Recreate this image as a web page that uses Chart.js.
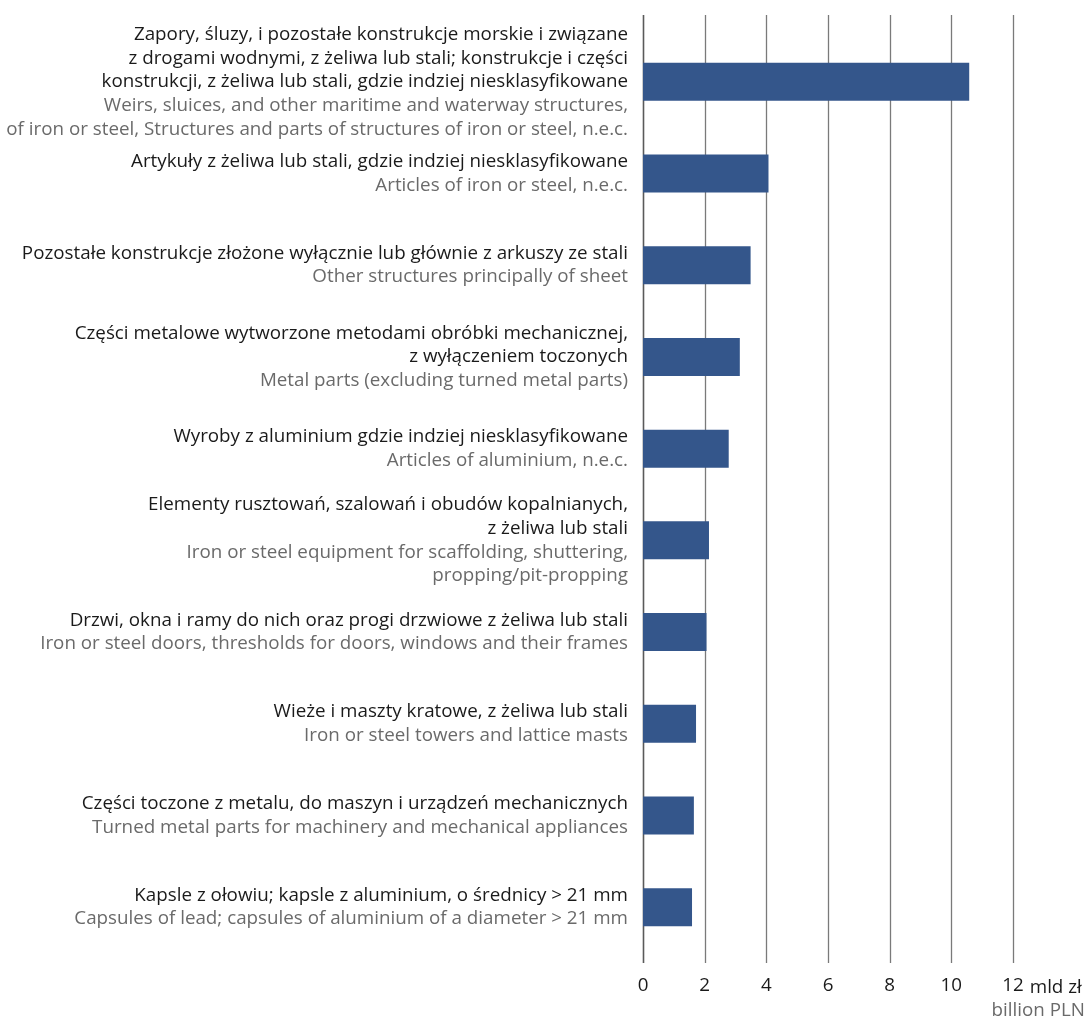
<!DOCTYPE html>
<html>
<head>
<meta charset="utf-8">
<script src="https://cdn.jsdelivr.net/npm/chart.js@4/dist/chart.umd.min.js"></script>
<style>
  html, body { margin:0; padding:0; background:#fff; }
  #wrap { width:1087px; height:1022px; position:relative; }
</style>
</head>
<body>
<div id="wrap"><canvas id="chart" width="1087" height="1022"></canvas></div>
<script>
const FONT = "'Open Sans', 'Noto Sans', sans-serif";
const BLUE = "#34568b";

// category labels, Polish (black) and English (grey) lines
const labelsPL = [
  ["Zapory, śluzy, i pozostałe konstrukcje morskie i związane", "z drogami wodnymi, z żeliwa lub stali; konstrukcje i części", "konstrukcji, z żeliwa lub stali, gdzie indziej niesklasyfikowane"],
  ["Artykuły z żeliwa lub stali, gdzie indziej niesklasyfikowane"],
  ["Pozostałe konstrukcje złożone wyłącznie lub głównie z arkuszy ze stali"],
  ["Części metalowe wytworzone metodami obróbki mechanicznej,", "z wyłączeniem toczonych"],
  ["Wyroby z aluminium gdzie indziej niesklasyfikowane"],
  ["Elementy rusztowań, szalowań i obudów kopalnianych,", "z żeliwa lub stali"],
  ["Drzwi, okna i ramy do nich oraz progi drzwiowe z żeliwa lub stali"],
  ["Wieże i maszty kratowe, z żeliwa lub stali"],
  ["Części toczone z metalu, do maszyn i urządzeń mechanicznych"],
  ["Kapsle z ołowiu; kapsle z aluminium, o średnicy > 21 mm"]
];
const labelsEN = [
  ["Weirs, sluices, and other maritime and waterway structures,", "of iron or steel, Structures and parts of structures of iron or steel, n.e.c."],
  ["Articles of iron or steel, n.e.c."],
  ["Other structures principally of sheet"],
  ["Metal parts (excluding turned metal parts)"],
  ["Articles of aluminium, n.e.c."],
  ["Iron or steel equipment for scaffolding, shuttering,", "propping/pit-propping"],
  ["Iron or steel doors, thresholds for doors, windows and their frames"],
  ["Iron or steel towers and lattice masts"],
  ["Turned metal parts for machinery and mechanical appliances"],
  ["Capsules of lead; capsules of aluminium of a diameter > 21 mm"]
];
const values = [10.58, 4.07, 3.49, 3.14, 2.78, 2.14, 2.06, 1.72, 1.65, 1.59];
const xTicks = [0, 2, 4, 6, 8, 10, 12];
const unitPL = "mld zł";
const unitEN = "billion PLN";

const FS = 18.8;

// labels drawn by hand so that each block can mix two colours
const labelPlugin = {
  id: "blockLabels",
  beforeDatasetsDraw(chart) {
    // gridlines run from the top of the figure down past the last bar slot
    const { ctx, chartArea: a, scales: { x } } = chart;
    ctx.save();
    xTicks.forEach(v => {
      const px = Math.round(x.getPixelForValue(v)) + 0.5;
      ctx.strokeStyle = v === 0 ? "#5a5a5a" : "#7a7a7a";
      ctx.lineWidth = v === 0 ? 1.6 : 1.3;
      ctx.beginPath(); ctx.moveTo(px, 15); ctx.lineTo(px, a.bottom + 10); ctx.stroke();
    });
    ctx.restore();
  },
  afterDraw(chart) {
    const { ctx, scales: { x, y } } = chart;
    const lh = 23.7, right = x.left - 15;
    ctx.save();
    ctx.textAlign = "right"; ctx.textBaseline = "middle";
    ctx.font = `${FS}px ${FONT}`;
    labelsPL.forEach((pl, i) => {
      const lines = pl.map(t => [t, "#1a1a1a"]).concat(labelsEN[i].map(t => [t, "#6a6a6a"]));
      const cy = y.getPixelForValue(i);
      let ty = cy - (lines.length - 1) * lh / 2;
      lines.forEach(([t, c]) => { ctx.fillStyle = c; ctx.fillText(t, right, ty); ty += lh; });
    });
    // unit next to the last tick
    const last = xTicks[xTicks.length - 1];
    const px = x.getPixelForValue(last);
    ctx.textAlign = "left"; ctx.fillStyle = "#1a1a1a";
    const w = ctx.measureText(String(last)).width;
    ctx.fillText(unitPL, px + w / 2 + 6, 988);
    ctx.textAlign = "right"; ctx.fillStyle = "#6a6a6a";
    ctx.fillText(unitEN, chart.width - 2, 1011);
    ctx.restore();
  }
};

new Chart(document.getElementById("chart").getContext("2d"), {
  type: "bar",
  data: {
    labels: labelsPL.map((_, i) => i),
    datasets: [{ data: values, backgroundColor: BLUE, borderWidth: 0, barPercentage: 0.414, categoryPercentage: 1 }]
  },
  options: {
    indexAxis: "y",
    responsive: false,
    animation: false,
    layout: { padding: { top: 36, right: 74, left: 0, bottom: 0 } },
    plugins: { legend: { display: false }, tooltip: { enabled: false } },
    scales: {
      x: {
        min: 0, max: 12,
        afterBuildTicks: (s) => { s.ticks = xTicks.map(v => ({ value: v })); },
        afterFit: (s) => { s.height = 69; },
        border: { display: false },
        grid: { display: false },
        ticks: { color: "#1a1a1a", font: { family: FONT, size: FS }, padding: 13, maxRotation: 0 }
      },
      y: {
        afterFit: (s) => { s.width = 643; },
        grid: { display: false },
        border: { display: false },
        ticks: { display: false }
      }
    }
  },
  plugins: [labelPlugin]
});
</script>
</body>
</html>
